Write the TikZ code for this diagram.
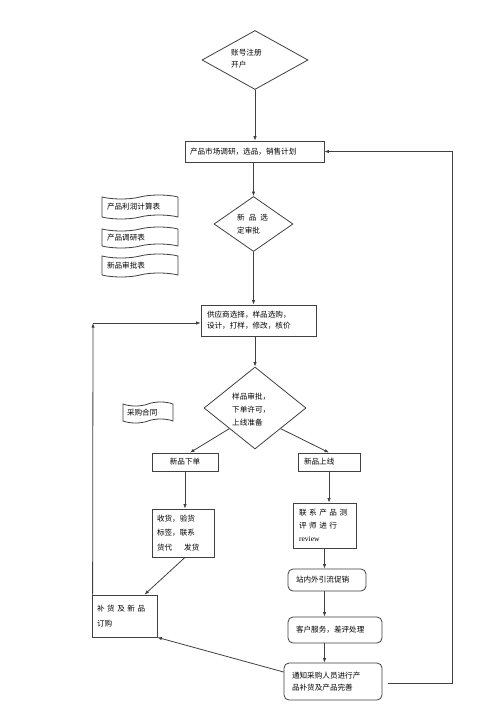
\documentclass[tikz,border=0pt]{standalone}
\usepackage{fontspec}
\setmainfont{Noto Sans CJK SC}
\newfontfamily\lserif{Liberation Serif}
\usetikzlibrary{shapes.geometric,shapes.symbols,arrows.meta}
\begin{document}
\begin{tikzpicture}[x=1pt,y=-1pt,
  every node/.style={font=\fontsize{7.6}{11}\selectfont, text=black},
  ln/.style={draw=black!75, line width=0.8pt},
  arr/.style={ln, -{Latex[length=4.5pt,width=3.5pt]}},
  dia/.style={ln, shape=diamond, inner sep=0pt},
  box/.style={ln, rectangle, inner ysep=0pt, align=left},
  rbox/.style={box, rounded corners=5pt},
  doc/.style={ln, shape=tape, tape bend top=in and out, tape bend bottom=in and out, tape bend height=4pt, inner ysep=0pt, align=left},
  txt/.style={inner sep=0pt, align=left, anchor=west}
]
\useasboundingbox (0,0) rectangle (500,708);
\fill[white] (0,0) rectangle (500,708);

% top diamond
\node[dia, minimum width=106pt, minimum height=59pt, aspect=1.8] (d1) at (255,60) {};
\node[txt, font=\fontsize{7.6}{12}\selectfont] (d1t) at (231,59) {账号注册\\开户};

\node[box, minimum height=21pt, text width=129pt, inner xsep=5pt] (b2) at (254.5,151.5) {产品市场调研，选品，销售计划};

\node[dia, minimum width=79pt, minimum height=55pt, aspect=1.44] (d2) at (253.5,224) {};
\node[txt, font=\fontsize{7.6}{13}\selectfont] (d2t) at (237,224.5) {新\hspace{4pt}品\hspace{4pt}选\\定审批};

% documents
\node[doc, minimum width=76pt, minimum height=24pt, text width=66pt, inner xsep=5pt] (p1) at (140,207) {产品利润计算表};
\node[doc, minimum width=76pt, minimum height=21pt, text width=66pt, inner xsep=5pt] (p2) at (140,237.5) {产品调研表};
\node[doc, minimum width=76pt, minimum height=23pt, text width=66pt, inner xsep=5pt] (p3) at (140,265.5) {新品审批表};
\node[doc, minimum width=50pt, minimum height=21pt, text width=42pt, inner xsep=4pt] (p4) at (148,412.5) {采购合同};

\node[box, minimum height=31pt, text width=103pt, inner xsep=6pt] (b3) at (258.5,320.5) {供应商选择，样品选购，\\设计，打样，修改，核价};

\node[dia, minimum width=102pt, minimum height=82pt, aspect=1.25] (d3) at (255,408) {};
\node[txt, font=\fontsize{7.6}{13}\selectfont] (d3t) at (232,410) {样品审批，\\下单许可，\\上线准备};

\node[box, minimum width=66pt, minimum height=18pt, align=center, inner xsep=0pt] (n1) at (185,462) {新品下单};
\node[box, minimum height=18pt, text width=50pt, inner xsep=6pt] (n2) at (329,462) {新品上线};

\node[box, minimum height=48pt, text width=52pt, inner xsep=5pt, font=\fontsize{7.6}{14.5}\selectfont] (r1) at (183,533) {收货，验货\\标签，联系\\货代\hspace{12pt}发货};

\node[box, minimum height=42pt, text width=55pt, inner xsep=5pt, font=\fontsize{7.6}{15}\selectfont] (bu) at (124.5,616) {\makebox[51pt][s]{补 货 及 新 品}\\订购};

\node[box, minimum height=45pt, text width=51pt, inner xsep=6pt, font=\fontsize{7.6}{13}\selectfont] (c1) at (324.5,525.5) {\makebox[49pt][s]{联 系 产 品 测}\\\makebox[49pt][s]{评 师 进 行}\\{\lserif review}};

\node[rbox, minimum height=22pt, text width=62pt, inner xsep=8pt] (s1) at (327,580) {站内外引流促销};
\node[rbox, minimum height=26pt, text width=78pt, inner xsep=8pt] (k1) at (335,630) {客户服务，差评处理};
\node[rbox, minimum height=37pt, text width=82pt, inner xsep=8pt, font=\fontsize{7.6}{11.5}\selectfont] (t1) at (333,681.5) {通知采购人员进行产\\品补货及产品完善};

% connectors
\draw[arr] (d1.south) -- (d1.south |- b2.north);
\draw[arr] (d2.north |- b2.south) -- (d2.north);
\draw[arr] (d2.south) -- (d2.south |- b3.north);
\draw[arr] (d3.north |- b3.south) -- (d3.north);
\draw[arr] (d3.south west) -- ([xshift=5pt]n1.north);
\draw[arr] (d3.south east) -- (n2.north);
\draw[arr] (n1.south) -- (n1.south |- r1.north);
\draw[arr] (n2.south) -- (n2.south |- c1.north);
\draw[arr] (c1.south) -- (c1.south |- s1.north);
\draw[arr] (c1.south |- s1.south) -- (c1.south |- k1.north);
\draw[arr] (c1.south |- k1.south) -- (c1.south |- t1.north);
\draw[arr] ([xshift=2pt]r1.south) -- ([xshift=20pt]bu.north);
\draw[arr] ([yshift=9.5pt]t1.west) -- (bu.south east);

\coordinate (lc) at (93,323);
\draw[arr] ([xshift=1pt]bu.north west) -- (lc);
\draw[arr] (lc) -- (b3.west |- lc);

\coordinate (rc) at (452,151.5);
\draw[arr, shorten <=6pt] ([yshift=-1.5pt]t1.east) -| (rc) -- (b2.east);
\end{tikzpicture}
\end{document}
